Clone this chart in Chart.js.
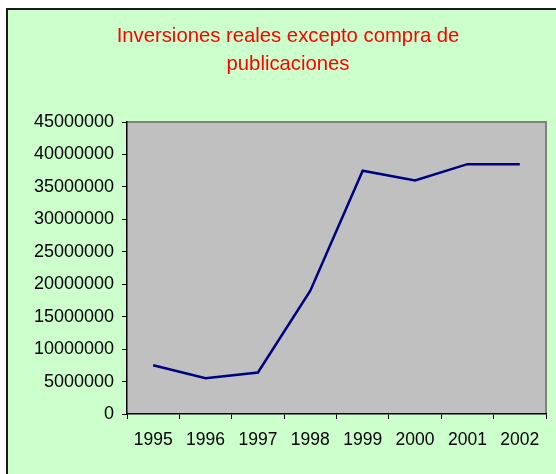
<!DOCTYPE html>
<html>
<head>
  <meta charset="utf-8" />
  <title>Inversiones reales excepto compra de publicaciones</title>
  <script src="https://cdn.jsdelivr.net/npm/chart.js"></script>
  <style>
    body { margin: 0; background: #fff; }
    #wrap { width: 556px; height: 474px; position: relative; }
  </style>
</head>
<body>
  <div id="wrap"><canvas id="invChart" width="556" height="474"></canvas></div>

  <script>
    // Data
    const years = ['1995', '1996', '1997', '1998', '1999', '2000', '2001', '2002'];
    const inversiones = [7500000, 5500000, 6400000, 19000000, 37500000, 36000000, 38500000, 38500000];
    const titleLines = ['Inversiones reales excepto compra de', 'publicaciones'];

    const FONT = '"Liberation Sans", Arial, sans-serif';

    // Green panel, gray plot area and the title
    const frame = {
      id: 'frame',
      beforeDraw(chart) {
        const ctx = chart.ctx;
        const a = chart.chartArea;
        ctx.save();
        ctx.fillStyle = '#ffffff';
        ctx.fillRect(0, 0, chart.width, chart.height);
        ctx.fillStyle = '#ccffcc';
        ctx.fillRect(7, 9, chart.width, chart.height);
        ctx.strokeStyle = '#1a1a1a';
        ctx.lineWidth = 2;
        ctx.strokeRect(7, 9, chart.width + 10, chart.height + 10);

        ctx.fillStyle = '#c0c0c0';
        ctx.fillRect(a.left, a.top, a.right - a.left, a.bottom - a.top);
        ctx.strokeStyle = '#808080';
        ctx.lineWidth = 2;
        ctx.beginPath();
        ctx.moveTo(a.left, a.top);
        ctx.lineTo(a.right, a.top);
        ctx.lineTo(a.right, a.bottom);
        ctx.stroke();

        ctx.fillStyle = '#ff0000';
        ctx.font = '20.3px ' + FONT;
        ctx.textAlign = 'center';
        ctx.textBaseline = 'middle';
        ctx.fillText(titleLines[0], 288, 36);
        ctx.fillText(titleLines[1], 288, 64);
        ctx.restore();
      }
    };

    const ctx = document.getElementById('invChart').getContext('2d');
    new Chart(ctx, {
      type: 'line',
      data: {
        labels: years,
        datasets: [{
          data: inversiones,
          borderColor: '#000080',
          borderWidth: 2.5,
          pointRadius: 0,
          tension: 0,
          fill: false
        }]
      },
      options: {
        responsive: false,
        animation: false,
        layout: { padding: { top: 122, right: 10, bottom: 0, left: 0 } },
        plugins: {
          legend: { display: false },
          tooltip: { enabled: false }
        },
        scales: {
          x: {
            offset: true,
            afterFit(scale) { scale.height = 60; },
            grid: {
              offset: true,
              drawOnChartArea: false,
              tickLength: 5,
              color: '#000'
            },
            border: { color: '#000', width: 1.5 },
            ticks: {
              color: '#000',
              font: { family: FONT, size: 17.5 },
              padding: 11,
              maxRotation: 0
            }
          },
          y: {
            min: 0,
            max: 45000000,
            afterFit(scale) { scale.width = 127; },
            grid: {
              drawOnChartArea: false,
              tickLength: 5,
              color: '#000'
            },
            border: { color: '#000', width: 1.5 },
            ticks: {
              stepSize: 5000000,
              color: '#000',
              font: { family: FONT, size: 18 },
              padding: 8,
              callback: v => String(v)
            }
          }
        }
      },
      plugins: [frame]
    });
  </script>
</body>
</html>
